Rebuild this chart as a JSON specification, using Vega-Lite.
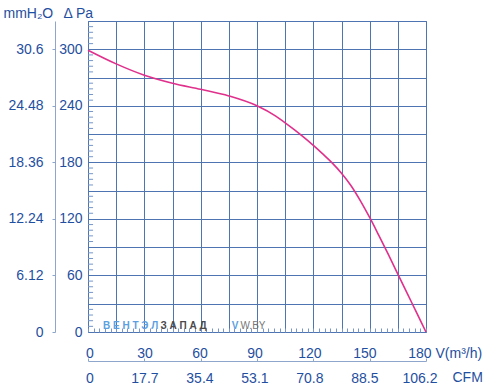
{
  "$schema": "https://vega.github.io/schema/vega-lite/v6.json",
  "width": 338,
  "height": 311,
  "autosize": {"type": "none"},
  "padding": {"left": 88, "top": 21, "right": 62, "bottom": 58},
  "background": "white",
  "config": {
    "view": {"stroke": "#4f74b2", "strokeWidth": 1},
    "axis": {
      "labelFont": "Liberation Sans",
      "titleFont": "Liberation Sans",
      "labelColor": "#1f4fa0",
      "titleColor": "#1f4fa0",
      "labelFontSize": 14,
      "titleFontSize": 14,
      "titleFontWeight": "normal"
    }
  },
  "datasets": {
    "curve": [
      {"v": 0, "p": 299},
      {"v": 15, "p": 284.5},
      {"v": 30, "p": 272.5},
      {"v": 45, "p": 264},
      {"v": 60, "p": 257.5},
      {"v": 75, "p": 250.5},
      {"v": 90, "p": 240},
      {"v": 100, "p": 229},
      {"v": 105, "p": 222},
      {"v": 110, "p": 214.5},
      {"v": 115, "p": 206.5},
      {"v": 120, "p": 198},
      {"v": 125, "p": 189},
      {"v": 130, "p": 179.5},
      {"v": 135, "p": 168.5},
      {"v": 140, "p": 155.5},
      {"v": 145, "p": 139.5},
      {"v": 150, "p": 121.5},
      {"v": 155, "p": 102},
      {"v": 160, "p": 82},
      {"v": 165, "p": 61.5},
      {"v": 170, "p": 41},
      {"v": 175, "p": 20.5},
      {"v": 180, "p": 0}
    ],
    "minor": [
      {"p": 6}, {"p": 12}, {"p": 18}, {"p": 24}, {"p": 36}, {"p": 42}, {"p": 48}, {"p": 54},
      {"p": 66}, {"p": 72}, {"p": 78}, {"p": 84}, {"p": 96}, {"p": 102}, {"p": 108}, {"p": 114},
      {"p": 126}, {"p": 132}, {"p": 138}, {"p": 144}, {"p": 156}, {"p": 162}, {"p": 168}, {"p": 174},
      {"p": 186}, {"p": 192}, {"p": 198}, {"p": 204}, {"p": 216}, {"p": 222}, {"p": 228}, {"p": 234},
      {"p": 246}, {"p": 252}, {"p": 258}, {"p": 264}, {"p": 276}, {"p": 282}, {"p": 288}, {"p": 294},
      {"p": 306}, {"p": 312}, {"p": 318}, {"p": 324}
    ]
  },
  "data": {"name": "curve"},
  "resolve": {
    "scale": {"x": "independent", "y": "independent"},
    "axis": {"x": "independent", "y": "independent"}
  },
  "layer": [
    {
      "mark": {"type": "line", "strokeOpacity": 0},
      "encoding": {
        "x": {"field": "v", "type": "quantitative",
          "scale": {"domain": [0, 180], "nice": false, "zero": false},
          "axis": {"orient": "bottom", "grid": true, "values": [0, 15, 30, 45, 60, 75, 90, 105, 120, 135, 150, 165, 180],
            "labels": false, "ticks": false, "domain": false, "title": null,
            "gridColor": "#4f74b2", "gridOpacity": 1, "gridWidth": 1}},
        "y": {"field": "p", "type": "quantitative",
          "scale": {"domain": [0, 330], "nice": false, "zero": false},
          "axis": {"orient": "left", "grid": true, "values": [0, 30, 60, 90, 120, 150, 180, 210, 240, 270, 300, 330],
            "labels": false, "ticks": false, "domain": false, "title": null,
            "gridColor": "#4f74b2", "gridOpacity": 1, "gridWidth": 1}}
      }
    },
    {
      "mark": {"type": "line", "strokeOpacity": 0},
      "encoding": {
        "x": {"field": "v", "type": "quantitative",
          "scale": {"domain": [0, 180], "nice": false, "zero": false},
          "axis": {"orient": "top", "offset": -311, "grid": false,
            "values": [0,3,6,9,12,15,18,21,24,27,30,33,36,39,42,45,48,51,54,57,60,63,66,69,72,75,78,81,84,87,90,93,96,99,102,105,108,111,114,117,120,123,126,129,132,135,138,141,144,147,150,153,156,159,162,165,168,171,174,177,180],
            "labels": false, "ticks": true, "tickSize": 4, "tickColor": "#7896c8", "tickWidth": 1, "tickOpacity": 1, "domain": false, "title": null}},
        "y": {"field": "p", "type": "quantitative",
          "scale": {"domain": [0, 330], "nice": false, "zero": false},
          "axis": null}
      }
    },
    {
      "data": {"name": "minor"},
      "mark": {"type": "rule", "color": "#7896c8", "strokeWidth": 1},
      "encoding": {
        "x": {"datum": 0, "type": "quantitative", "scale": {"domain": [0, 180], "nice": false, "zero": false}, "axis": null},
        "x2": {"datum": 2.7},
        "y": {"field": "p", "type": "quantitative", "scale": {"domain": [0, 330], "nice": false, "zero": false}, "axis": null}
      }
    },
    {
      "mark": {"type": "line", "strokeOpacity": 0},
      "encoding": {
        "x": {"field": "v", "type": "quantitative",
          "scale": {"domain": [0, 180], "nice": false, "zero": false},
          "axis": {"orient": "top", "offset": -340, "grid": false, "values": [0, 30, 60, 90, 120, 150, 180],
            "labels": false, "ticks": true, "tickSize": 3, "tickColor": "#8ea6cc",
            "domain": true, "domainColor": "#8ea6cc", "title": null}},
        "y": {"field": "p", "type": "quantitative",
          "scale": {"domain": [0, 330], "nice": false, "zero": false},
          "axis": {"orient": "left", "offset": 33, "grid": false, "values": [0, 60, 120, 180, 240, 300],
            "labelExpr": "format(datum.value * 0.102, '.4~f')",
            "ticks": true, "tickSize": 3, "tickColor": "#8ea6cc",
            "domain": true, "domainColor": "#8ea6cc", "labelPadding": 9,
            "title": "mmH₂O", "titleAngle": 0, "titleAlign": "left", "titleBaseline": "middle",
            "titleX": -52, "titleY": -8}}
      }
    },
    {
      "mark": {"type": "line", "strokeOpacity": 0},
      "encoding": {
        "x": {"field": "v", "type": "quantitative",
          "scale": {"domain": [-0.8, 183.6], "nice": false, "zero": false},
          "axis": {"orient": "bottom", "grid": false, "values": [0, 30, 60, 90, 120, 150, 180],
            "ticks": false, "tickSize": 0, "domain": false, "labelPadding": 14,
            "title": "V(m³/h)", "titleAlign": "left", "titleBaseline": "middle",
            "titleX": 347, "titleY": 21}},
        "y": {"field": "p", "type": "quantitative",
          "scale": {"domain": [0, 330], "nice": false, "zero": false},
          "axis": {"orient": "left", "grid": false, "values": [0, 60, 120, 180, 240, 300],
            "ticks": false, "tickSize": 0, "domain": false, "labelPadding": 6,
            "title": "Δ Pa", "titleAngle": 0, "titleAlign": "left", "titleBaseline": "middle",
            "titleX": -25, "titleY": -8}}
      }
    },
    {
      "mark": {"type": "line", "strokeOpacity": 0},
      "encoding": {
        "x": {"field": "v", "type": "quantitative",
          "scale": {"domain": [-0.8, 183.6], "nice": false, "zero": false},
          "axis": {"orient": "bottom", "offset": 29, "grid": false, "values": [0, 30, 60, 90, 120, 150, 180],
            "labelExpr": "datum.value === 0 ? '0' : format(datum.value * 0.59, '.1f')",
            "ticks": false, "tickSize": 0, "domain": false, "labelPadding": 10,
            "title": "CFM", "titleAlign": "left", "titleBaseline": "middle",
            "titleX": 364, "titleY": 16}},
        "y": {"field": "p", "type": "quantitative",
          "scale": {"domain": [0, 330], "nice": false, "zero": false},
          "axis": null}
      }
    },
    {
      "data": {"values": [
        {"v": 8, "p": 6.5, "t": "В Е Н Т Э Л"},
        {"v": 76.5, "p": 6.5, "t": "V"}
      ]},
      "mark": {"type": "text", "align": "left", "baseline": "middle", "font": "Liberation Sans", "fontSize": 10, "fontWeight": "bold", "color": "#5d9fe0"},
      "encoding": {
        "x": {"field": "v", "type": "quantitative", "scale": {"domain": [0, 180], "nice": false, "zero": false}, "axis": null},
        "y": {"field": "p", "type": "quantitative", "scale": {"domain": [0, 330], "nice": false, "zero": false}, "axis": null},
        "text": {"field": "t"}
      }
    },
    {
      "data": {"values": [
        {"v": 38.6, "p": 6.5, "t": "З А П А Д"}
      ]},
      "mark": {"type": "text", "align": "left", "baseline": "middle", "font": "Liberation Sans", "fontSize": 10, "fontWeight": "bold", "color": "#4a4a4a"},
      "encoding": {
        "x": {"field": "v", "type": "quantitative", "scale": {"domain": [0, 180], "nice": false, "zero": false}, "axis": null},
        "y": {"field": "p", "type": "quantitative", "scale": {"domain": [0, 330], "nice": false, "zero": false}, "axis": null},
        "text": {"field": "t"}
      }
    },
    {
      "data": {"values": [
        {"v": 81.2, "p": 6.5, "t": "W.BY"}
      ]},
      "mark": {"type": "text", "align": "left", "baseline": "middle", "font": "Liberation Sans", "fontSize": 10, "color": "#777777"},
      "encoding": {
        "x": {"field": "v", "type": "quantitative", "scale": {"domain": [0, 180], "nice": false, "zero": false}, "axis": null},
        "y": {"field": "p", "type": "quantitative", "scale": {"domain": [0, 330], "nice": false, "zero": false}, "axis": null},
        "text": {"field": "t"}
      }
    },
    {
      "mark": {"type": "line", "color": "#e0308c", "strokeWidth": 1.6, "interpolate": "monotone"},
      "encoding": {
        "x": {"field": "v", "type": "quantitative", "scale": {"domain": [0, 180], "nice": false, "zero": false}, "axis": null},
        "y": {"field": "p", "type": "quantitative", "scale": {"domain": [0, 330], "nice": false, "zero": false}, "axis": null}
      }
    }
  ]
}
